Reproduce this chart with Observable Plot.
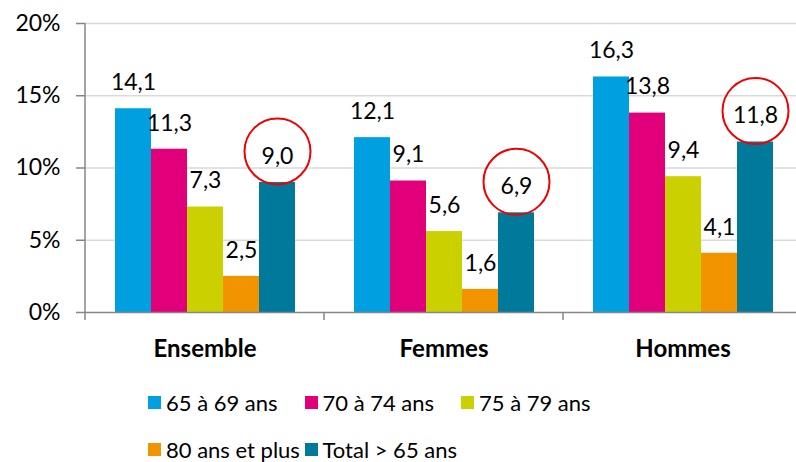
<!DOCTYPE html>
<html>
<head>
<meta charset="utf-8">
<script src="https://cdn.jsdelivr.net/npm/d3@7"></script>
<script src="https://cdn.jsdelivr.net/npm/@observablehq/plot@0.6"></script>
<style>
  html, body { margin: 0; padding: 0; background: #fff; overflow: hidden; }
  body { font-family: Lato, "Open Sans", sans-serif; width: 796px; }
  #chart { width: 796px; overflow: hidden; }
  #chart svg { display: block; max-width: none !important; }
  #legend { position: relative; margin-left: 148px; width: 480px; display: flex; flex-wrap: wrap; margin-top: 7px; }
  .item { width: 156.5px; height: 47px; display: flex; align-items: center; font-size: 22px; color: #000; white-space: nowrap; line-height: 1; }
  .sw { width: 13px; height: 13px; margin-right: 5px; flex: none; }
</style>
</head>
<body>
<div id="chart"></div>
<div id="legend"></div>
<script>
const groups = ["Ensemble", "Femmes", "Hommes"];
const series = ["65 à 69 ans", "70 à 74 ans", "75 à 79 ans", "80 ans et plus", "Total > 65 ans"];
const colors = ["#009fe0", "#e2007a", "#cbd100", "#f29400", "#00799a"];
const ensemble = [14.1, 11.3, 7.3, 2.5, 9.0];
const femmes = [12.1, 9.1, 5.6, 1.6, 6.9];
const hommes = [16.3, 13.8, 9.4, 4.1, 11.8];
const yTicks = [0, 5, 10, 15, 20];
const highlighted = "Total > 65 ans";

const valuesByGroup = [ensemble, femmes, hommes];
const data = [];
groups.forEach((g, gi) => series.forEach((s, si) => data.push({group: g, serie: s, value: valuesByGroup[gi][si]})));
const fmt = v => d3.format(".1f")(v).replace(".", ",");

const W = 802, H = 372, ML = 85, MT = 23, MB = 60;
const chart = Plot.plot({
  width: W, height: H,
  marginLeft: ML, marginRight: 0, marginTop: MT, marginBottom: MB,
  style: {fontFamily: "Lato, 'Open Sans', sans-serif", color: "#000", background: "#fff", maxWidth: "none"},
  fx: {domain: groups, padding: 0, label: null},
  x: {domain: series, paddingInner: 0, paddingOuter: 0.73, axis: null},
  y: {domain: [0, 20], label: null},
  color: {domain: series, range: colors},
  marks: [
    Plot.gridY({ticks: yTicks.slice(1), stroke: "#d9d9d9", strokeOpacity: 1, strokeWidth: 1.5}),
    Plot.barY(data, {fx: "group", x: "serie", y: "value", fill: "serie"}),
    Plot.ruleY([0], {stroke: "#868686", strokeWidth: 1.5}),
    Plot.text(data, {fx: "group", x: "serie", y: "value", text: d => fmt(d.value), dy: -26, fontSize: 23, fill: "#000"}),
    Plot.dot(data.filter(d => d.serie === highlighted), {fx: "group", x: "serie", y: "value", r: 33, dy: -31, stroke: "#f00000", strokeWidth: 2, fill: "none"}),
    Plot.axisY({ticks: yTicks, tickFormat: d => d + "%", tickSize: 9, tickPadding: 16, fontSize: 23, stroke: "#868686", strokeWidth: 1.5, fill: "#000", label: null}),
    Plot.axisFx({anchor: "bottom", tickSize: 0, tickPadding: 27, fontSize: 24, fontWeight: "bold", fill: "#000", label: null})
  ]
});
document.getElementById("chart").appendChild(chart);

// Group separator ticks and y-axis line, from the plot's own scales
const svg = d3.select(chart);
const fx = chart.scale("fx");
const y = chart.scale("y");
const y0 = y.apply(0), yTop = y.apply(20);
const bounds = groups.map(g => fx.apply(g));
bounds.push(fx.apply(groups[groups.length - 1]) + fx.bandwidth);
const xLeft = bounds[0];
svg.append("g").attr("stroke", "#868686").attr("stroke-width", 1.5)
  .selectAll("line").data(bounds).join("line")
  .attr("x1", d => d).attr("x2", d => d).attr("y1", y0).attr("y2", y0 + 8);
svg.append("line").attr("stroke", "#868686").attr("stroke-width", 1.5)
  .attr("x1", xLeft).attr("x2", xLeft).attr("y1", yTop).attr("y2", y0);

// Legend
const legend = d3.select("#legend");
series.forEach((s, i) => {
  const it = legend.append("div").attr("class", "item");
  it.append("div").attr("class", "sw").style("background", colors[i]);
  it.append("span").text(s);
});
</script>
</body>
</html>
